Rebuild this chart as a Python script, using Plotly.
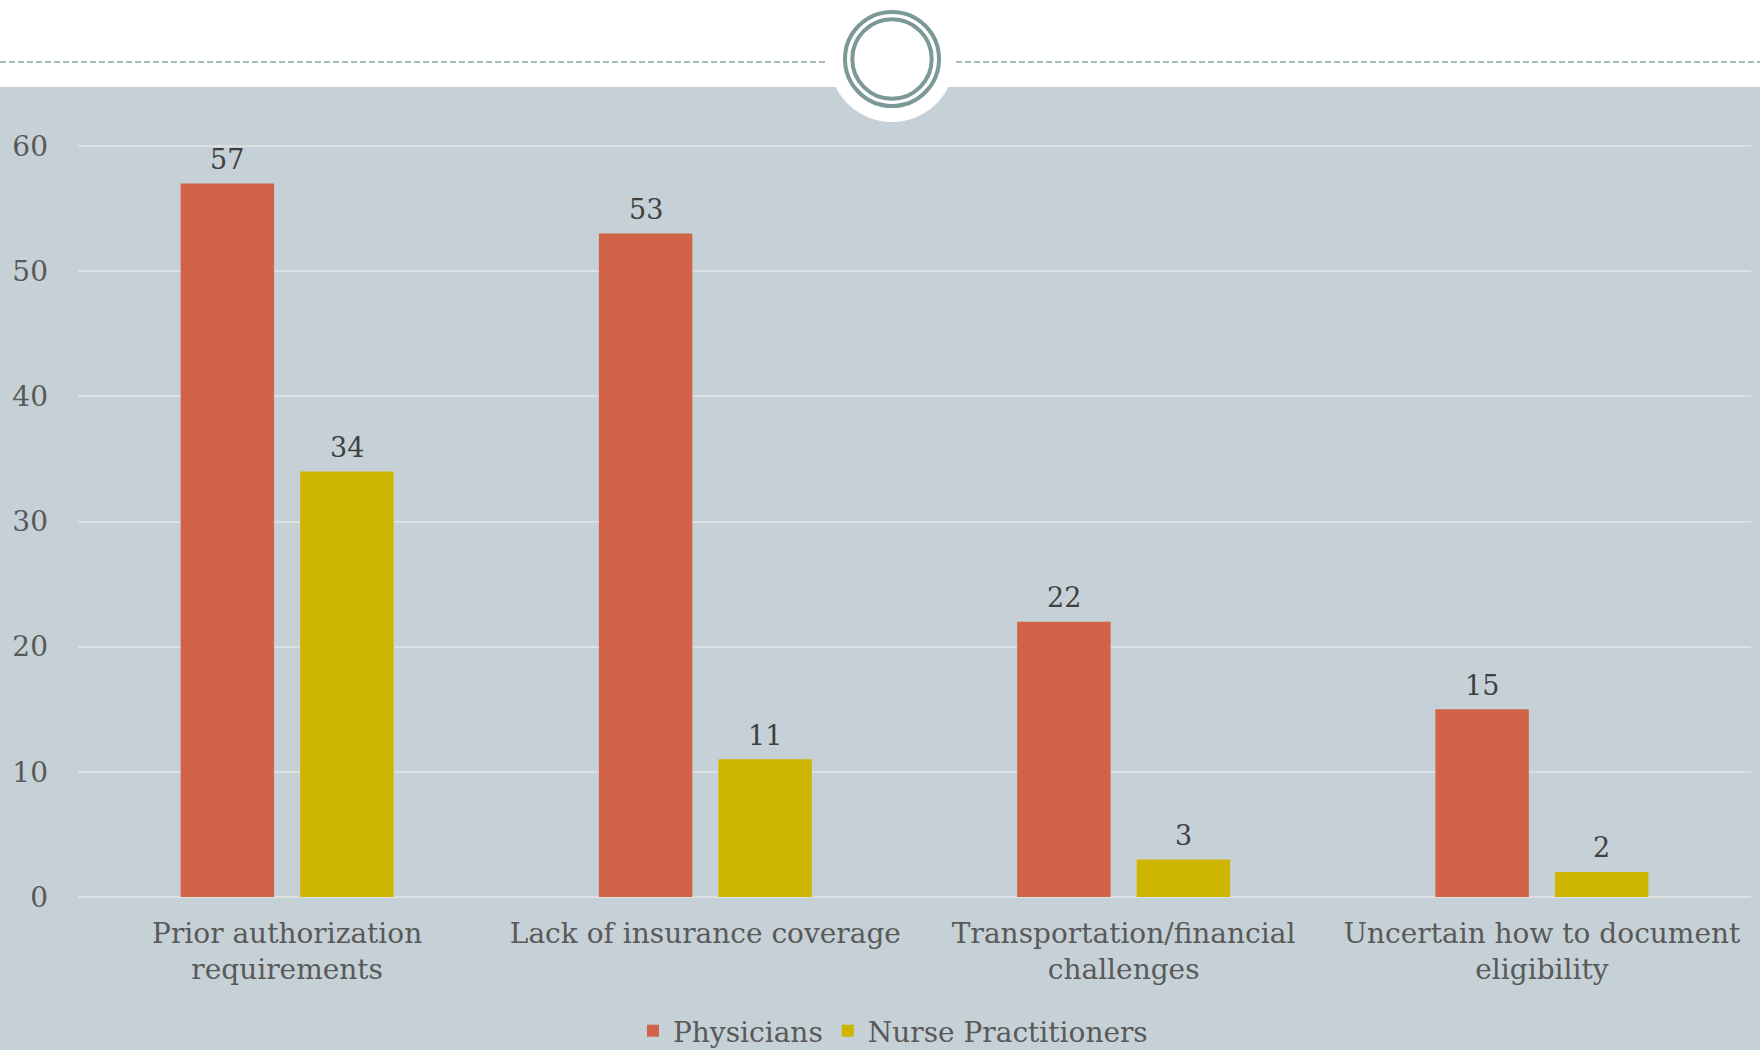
import plotly.graph_objects as go

categories = ["Prior authorization<br>requirements", "Lack of insurance coverage",
              "Transportation/financial<br>challenges", "Uncertain how to document<br>eligibility"]
physicians = [57, 53, 22, 15]
nurse_practitioners = [34, 11, 3, 2]
series_names = ["Physicians", "Nurse Practitioners"]
y_ticks = [0, 10, 20, 30, 40, 50, 60]

W, H = 1760, 1050
L, R, T, B = 78, 9, 144, 151
PW, PH = W - L - R, H - T - B

def xp(px):
    return (px - L) / PW

def yp(py):
    return (H - B - py) / PH

FONT = "Georgia, 'DejaVu Serif', serif"
TXT = "#595959"
COLORS = ["#D16349", "#CEB500"]

BARGAP, GROUPGAP = 0.4285, 0.218
cat_w = PW / len(categories)
slot = cat_w * (1 - BARGAP) / 2

fig = go.Figure()
annotations = []
for i, (name, vals) in enumerate(zip(series_names, [physicians, nurse_practitioners])):
    fig.add_trace(go.Bar(x=categories, y=vals, name=name,
                         marker=dict(color=COLORS[i], line=dict(width=0))))
    off = (i - 0.5) * slot
    for c, v in zip(categories, vals):
        annotations.append(dict(x=c, y=v, xref="x", yref="y", text=str(v),
                                showarrow=False, xshift=off, yshift=24,
                                yanchor="middle",
                                font=dict(family=FONT, size=27, color="#404040")))

shapes = []
# gray background panel
shapes.append(dict(type="rect", xref="paper", yref="paper", layer="below",
                   x0=xp(0), x1=xp(W), y0=yp(H), y1=yp(87),
                   fillcolor="#C6D1D7", line=dict(width=0)))
# white cutout circle
cx, cy = 892, 59
r = 63
shapes.append(dict(type="circle", xref="paper", yref="paper", layer="below",
                   x0=xp(cx - r), x1=xp(cx + r), y0=yp(cy + r), y1=yp(cy - r),
                   fillcolor="white", line=dict(width=0)))
# dashed lines
for xa, xb in [(0, 828), (956, W)]:
    shapes.append(dict(type="line", xref="paper", yref="paper", layer="above",
                       x0=xp(xa), x1=xp(xb), y0=yp(62), y1=yp(62),
                       line=dict(color="#8AA3A3", width=1.6, dash="6px,3px")))
# rings
for rr in [47, 39.7]:
    shapes.append(dict(type="circle", xref="paper", yref="paper", layer="above",
                       x0=xp(cx - rr), x1=xp(cx + rr), y0=yp(cy + rr), y1=yp(cy - rr),
                       fillcolor="rgba(0,0,0,0)", line=dict(width=4, color="#7A9997")))

fig.update_layout(
    width=W, height=H,
    margin=dict(l=L, r=R, t=T, b=B, autoexpand=False),
    paper_bgcolor="white", plot_bgcolor="rgba(0,0,0,0)",
    barmode="group", bargap=BARGAP, bargroupgap=GROUPGAP,
    font=dict(family=FONT, color=TXT, size=28),
    shapes=shapes, annotations=annotations,
    showlegend=True,
    legend=dict(orientation="h", xref="container", yref="container",
                x=893 / W, xanchor="center", y=1 - 1031 / H, yanchor="middle",
                font=dict(family=FONT, size=28, color=TXT),
                bgcolor="rgba(0,0,0,0)", traceorder="normal"),
    xaxis=dict(showgrid=False, showline=False, zeroline=False, ticks="",
               tickfont=dict(family=FONT, size=28, color=TXT),
               ticklabelstandoff=15),
    yaxis=dict(range=[-0.16, 60.16], tickvals=y_ticks, showgrid=True,
               gridcolor="#DDE0E1", gridwidth=2, zeroline=False, showline=False,
               ticks="", tickfont=dict(family=FONT, size=28, color=TXT),
               ticklabelstandoff=29),
)

fig.write_html("out.html")
